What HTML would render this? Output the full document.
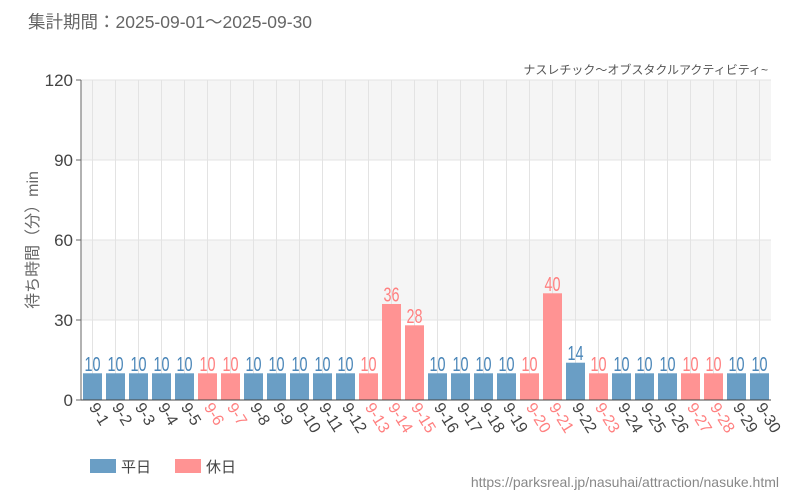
<!DOCTYPE html><html><head><meta charset="utf-8"><style>body{margin:0;background:#fff}svg{display:block;font-family:"Liberation Sans","Noto Sans CJK JP",sans-serif}</style></head><body>
<svg width="800" height="500" xmlns="http://www.w3.org/2000/svg">
<text x="28" y="28" font-size="17.5" fill="#666">集計期間：2025-09-01～2025-09-30</text>
<text x="768" y="74" font-size="12" fill="#555" text-anchor="end">ナスレチック～オブスタクルアクティビティ~</text>
<rect x="81" y="80" width="690" height="80" fill="#f5f5f5"/>
<rect x="81" y="240" width="690" height="80" fill="#f5f5f5"/>
<g stroke="#e3e3e3">
<line x1="81" y1="80" x2="771" y2="80"/><line x1="81" y1="160" x2="771" y2="160"/><line x1="81" y1="240" x2="771" y2="240"/><line x1="81" y1="320" x2="771" y2="320"/>
<line x1="92.5" y1="80" x2="92.5" y2="400"/><line x1="115.5" y1="80" x2="115.5" y2="400"/><line x1="138.5" y1="80" x2="138.5" y2="400"/><line x1="161.5" y1="80" x2="161.5" y2="400"/><line x1="184.5" y1="80" x2="184.5" y2="400"/><line x1="207.5" y1="80" x2="207.5" y2="400"/><line x1="230.5" y1="80" x2="230.5" y2="400"/><line x1="253.5" y1="80" x2="253.5" y2="400"/><line x1="276.5" y1="80" x2="276.5" y2="400"/><line x1="299.5" y1="80" x2="299.5" y2="400"/><line x1="322.5" y1="80" x2="322.5" y2="400"/><line x1="345.5" y1="80" x2="345.5" y2="400"/><line x1="368.5" y1="80" x2="368.5" y2="400"/><line x1="391.5" y1="80" x2="391.5" y2="400"/><line x1="414.5" y1="80" x2="414.5" y2="400"/><line x1="437.5" y1="80" x2="437.5" y2="400"/><line x1="460.5" y1="80" x2="460.5" y2="400"/><line x1="483.5" y1="80" x2="483.5" y2="400"/><line x1="506.5" y1="80" x2="506.5" y2="400"/><line x1="529.5" y1="80" x2="529.5" y2="400"/><line x1="552.5" y1="80" x2="552.5" y2="400"/><line x1="575.5" y1="80" x2="575.5" y2="400"/><line x1="598.5" y1="80" x2="598.5" y2="400"/><line x1="621.5" y1="80" x2="621.5" y2="400"/><line x1="644.5" y1="80" x2="644.5" y2="400"/><line x1="667.5" y1="80" x2="667.5" y2="400"/><line x1="690.5" y1="80" x2="690.5" y2="400"/><line x1="713.5" y1="80" x2="713.5" y2="400"/><line x1="736.5" y1="80" x2="736.5" y2="400"/><line x1="759.5" y1="80" x2="759.5" y2="400"/>
</g>
<g font-size="17" fill="#444" text-anchor="end">
<text x="73" y="86">120</text><text x="73" y="166">90</text><text x="73" y="246">60</text><text x="73" y="326">30</text><text x="73" y="406">0</text></g>
<text transform="translate(38,240) rotate(-90)" font-size="16" fill="#666" text-anchor="middle">待ち時間（分）min</text>
<g fill="#6a9ec5">
<rect x="83" y="373.3" width="19" height="26.7"/><rect x="106" y="373.3" width="19" height="26.7"/><rect x="129" y="373.3" width="19" height="26.7"/><rect x="152" y="373.3" width="19" height="26.7"/><rect x="175" y="373.3" width="19" height="26.7"/>
<rect x="244" y="373.3" width="19" height="26.7"/><rect x="267" y="373.3" width="19" height="26.7"/><rect x="290" y="373.3" width="19" height="26.7"/><rect x="313" y="373.3" width="19" height="26.7"/><rect x="336" y="373.3" width="19" height="26.7"/>
<rect x="428" y="373.3" width="19" height="26.7"/><rect x="451" y="373.3" width="19" height="26.7"/><rect x="474" y="373.3" width="19" height="26.7"/><rect x="497" y="373.3" width="19" height="26.7"/>
<rect x="566" y="362.7" width="19" height="37.3"/>
<rect x="612" y="373.3" width="19" height="26.7"/><rect x="635" y="373.3" width="19" height="26.7"/><rect x="658" y="373.3" width="19" height="26.7"/>
<rect x="727" y="373.3" width="19" height="26.7"/><rect x="750" y="373.3" width="19" height="26.7"/>
</g>
<g fill="#ff9393">
<rect x="198" y="373.3" width="19" height="26.7"/><rect x="221" y="373.3" width="19" height="26.7"/>
<rect x="359" y="373.3" width="19" height="26.7"/><rect x="382" y="304" width="19" height="96"/><rect x="405" y="325.3" width="19" height="74.7"/>
<rect x="520" y="373.3" width="19" height="26.7"/><rect x="543" y="293.3" width="19" height="106.7"/>
<rect x="589" y="373.3" width="19" height="26.7"/>
<rect x="681" y="373.3" width="19" height="26.7"/><rect x="704" y="373.3" width="19" height="26.7"/>
</g>
<g font-size="20" text-anchor="middle" fill="#4a86b8">
<text x="92.5" y="371" textLength="16" lengthAdjust="spacingAndGlyphs">10</text><text x="115.5" y="371" textLength="16" lengthAdjust="spacingAndGlyphs">10</text><text x="138.5" y="371" textLength="16" lengthAdjust="spacingAndGlyphs">10</text><text x="161.5" y="371" textLength="16" lengthAdjust="spacingAndGlyphs">10</text><text x="184.5" y="371" textLength="16" lengthAdjust="spacingAndGlyphs">10</text>
<text x="253.5" y="371" textLength="16" lengthAdjust="spacingAndGlyphs">10</text><text x="276.5" y="371" textLength="16" lengthAdjust="spacingAndGlyphs">10</text><text x="299.5" y="371" textLength="16" lengthAdjust="spacingAndGlyphs">10</text><text x="322.5" y="371" textLength="16" lengthAdjust="spacingAndGlyphs">10</text><text x="345.5" y="371" textLength="16" lengthAdjust="spacingAndGlyphs">10</text>
<text x="437.5" y="371" textLength="16" lengthAdjust="spacingAndGlyphs">10</text><text x="460.5" y="371" textLength="16" lengthAdjust="spacingAndGlyphs">10</text><text x="483.5" y="371" textLength="16" lengthAdjust="spacingAndGlyphs">10</text><text x="506.5" y="371" textLength="16" lengthAdjust="spacingAndGlyphs">10</text>
<text x="575.5" y="360" textLength="16" lengthAdjust="spacingAndGlyphs">14</text>
<text x="621.5" y="371" textLength="16" lengthAdjust="spacingAndGlyphs">10</text><text x="644.5" y="371" textLength="16" lengthAdjust="spacingAndGlyphs">10</text><text x="667.5" y="371" textLength="16" lengthAdjust="spacingAndGlyphs">10</text>
<text x="736.5" y="371" textLength="16" lengthAdjust="spacingAndGlyphs">10</text><text x="759.5" y="371" textLength="16" lengthAdjust="spacingAndGlyphs">10</text>
</g>
<g font-size="20" text-anchor="middle" fill="#ff8080">
<text x="207.5" y="371" textLength="16" lengthAdjust="spacingAndGlyphs">10</text><text x="230.5" y="371" textLength="16" lengthAdjust="spacingAndGlyphs">10</text>
<text x="368.5" y="371" textLength="16" lengthAdjust="spacingAndGlyphs">10</text><text x="391.5" y="301.5" textLength="16" lengthAdjust="spacingAndGlyphs">36</text><text x="414.5" y="323" textLength="16" lengthAdjust="spacingAndGlyphs">28</text>
<text x="529.5" y="371" textLength="16" lengthAdjust="spacingAndGlyphs">10</text><text x="552.5" y="291" textLength="16" lengthAdjust="spacingAndGlyphs">40</text>
<text x="598.5" y="371" textLength="16" lengthAdjust="spacingAndGlyphs">10</text>
<text x="690.5" y="371" textLength="16" lengthAdjust="spacingAndGlyphs">10</text><text x="713.5" y="371" textLength="16" lengthAdjust="spacingAndGlyphs">10</text>
</g>
<line x1="81" y1="80" x2="81" y2="400" stroke="#666"/>
<line x1="81" y1="400" x2="771" y2="400" stroke="#444"/>
<g stroke="#666"><line x1="76" y1="80" x2="81" y2="80"/><line x1="76" y1="160" x2="81" y2="160"/><line x1="76" y1="240" x2="81" y2="240"/><line x1="76" y1="320" x2="81" y2="320"/><line x1="76" y1="400" x2="81" y2="400"/></g>
<g font-size="16" fill="#444">
<text transform="translate(88.5,407) rotate(58)">9-1</text>
<text transform="translate(111.5,407) rotate(58)">9-2</text>
<text transform="translate(134.5,407) rotate(58)">9-3</text>
<text transform="translate(157.5,407) rotate(58)">9-4</text>
<text transform="translate(180.5,407) rotate(58)">9-5</text>
<text transform="translate(203.5,407) rotate(58)" fill="#ff8080">9-6</text>
<text transform="translate(226.5,407) rotate(58)" fill="#ff8080">9-7</text>
<text transform="translate(249.5,407) rotate(58)">9-8</text>
<text transform="translate(272.5,407) rotate(58)">9-9</text>
<text transform="translate(295.5,407) rotate(58)">9-10</text>
<text transform="translate(318.5,407) rotate(58)">9-11</text>
<text transform="translate(341.5,407) rotate(58)">9-12</text>
<text transform="translate(364.5,407) rotate(58)" fill="#ff8080">9-13</text>
<text transform="translate(387.5,407) rotate(58)" fill="#ff8080">9-14</text>
<text transform="translate(410.5,407) rotate(58)" fill="#ff8080">9-15</text>
<text transform="translate(433.5,407) rotate(58)">9-16</text>
<text transform="translate(456.5,407) rotate(58)">9-17</text>
<text transform="translate(479.5,407) rotate(58)">9-18</text>
<text transform="translate(502.5,407) rotate(58)">9-19</text>
<text transform="translate(525.5,407) rotate(58)" fill="#ff8080">9-20</text>
<text transform="translate(548.5,407) rotate(58)" fill="#ff8080">9-21</text>
<text transform="translate(571.5,407) rotate(58)">9-22</text>
<text transform="translate(594.5,407) rotate(58)" fill="#ff8080">9-23</text>
<text transform="translate(617.5,407) rotate(58)">9-24</text>
<text transform="translate(640.5,407) rotate(58)">9-25</text>
<text transform="translate(663.5,407) rotate(58)">9-26</text>
<text transform="translate(686.5,407) rotate(58)" fill="#ff8080">9-27</text>
<text transform="translate(709.5,407) rotate(58)" fill="#ff8080">9-28</text>
<text transform="translate(732.5,407) rotate(58)">9-29</text>
<text transform="translate(755.5,407) rotate(58)">9-30</text>
</g>
<rect x="90" y="459" width="26" height="14" fill="#6a9ec5"/><text x="121" y="472" font-size="15" fill="#444">平日</text>
<rect x="175" y="459" width="26" height="14" fill="#ff9393"/><text x="206" y="472" font-size="15" fill="#444">休日</text>
<text x="779" y="487" font-size="14" fill="#888" text-anchor="end">https://parksreal.jp/nasuhai/attraction/nasuke.html</text>
</svg></body></html>
